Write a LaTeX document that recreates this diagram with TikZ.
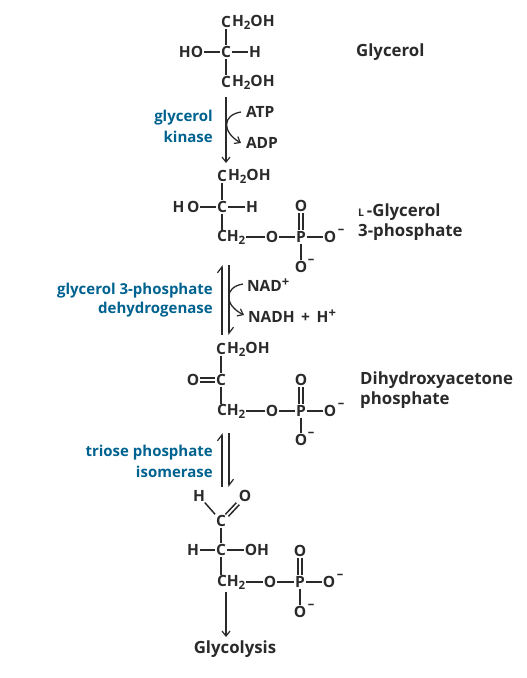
\documentclass[tikz,border=0pt]{standalone}
\usepackage{fontspec}
\setmainfont{Open Sans}[BoldFont={Open Sans Bold}]
\usetikzlibrary{arrows.meta,calc}
\definecolor{ink}{HTML}{2B2A2B}
\definecolor{enzblue}{HTML}{00628F}
\tikzset{
 atom/.style={font=\fontsize{15.5}{16}\selectfont\bfseries,text=ink,inner sep=1pt,outer sep=0pt},
 molname/.style={font=\fontsize{16.8}{17}\selectfont\bfseries,text=ink,inner sep=0pt,anchor=west},
 enzyme/.style={font=\fontsize{15}{16}\selectfont\bfseries,text=enzblue,inner sep=0pt,anchor=east},
 chg/.style={font=\fontsize{13}{13}\selectfont\bfseries,text=ink,inner sep=0pt},
 bond/.style={draw=ink,line width=1.5pt},
 rxn/.style={draw=ink,line width=1.3pt,-{Straight Barb[length=5pt,width=8pt,line width=1.2pt]}},
 upharp/.style={draw=ink,line width=1.3pt,-{Straight Barb[left,length=6pt,width=9pt,line width=1.2pt]}},
 downharp/.style={draw=ink,line width=1.3pt,-{Straight Barb[left,length=6pt,width=9pt,line width=1.2pt]}},
}
\newcommand{\subtwo}{\raisebox{-2.5pt}{\fontsize{11.5}{11}\selectfont 2}}
\newcommand{\supplus}{\raisebox{5pt}{\fontsize{13}{12}\selectfont +}}
\begin{document}
\begin{tikzpicture}[x=1pt,y=-1pt]
\useasboundingbox (0,0) rectangle (527,678);
% Glycerol
\node[atom] (a1) at (226,22) {C};
\node[atom,anchor=west] (a1r) at (231,22.5) {H\subtwo OH};
\node[atom] (a2) at (226,52) {C};
\node[atom] (a2l) at (191,52) {HO};
\node[atom] (a2r) at (255,52) {H};
\node[atom] (a3) at (226,82) {C};
\node[atom,anchor=west] (a3r) at (231,82.5) {H\subtwo OH};
\draw[bond] (a1) -- (a2);
\draw[bond] (a2) -- (a3);
\draw[bond] (a2l) -- (a2);
\draw[bond] (a2) -- (a2r);
\node[molname] (n1) at (356,52) {Glycerol};
% Step 1
\node[enzyme] (e1a) at (213,118) {glycerol};
\node[enzyme] (e1b) at (213,137) {kinase};
\coordinate (s1t) at (226,97);
\coordinate (s1b) at (226,163);
\draw[rxn] (s1t) -- (s1b);
\node[atom,anchor=west] (atp) at (245,112) {ATP};
\node[atom,anchor=west] (adp) at (245,143) {ADP};
\coordinate (s1c) at (241,112);
\coordinate (s1d) at (241,143);
\draw[rxn] (s1c) .. controls (222,115) and (222,132) .. (s1d);
% Glycerol 3-phosphate
\node[atom] (b1) at (222,176) {C};
\node[atom,anchor=west] (b1r) at (227,176.5) {H\subtwo OH};
\node[atom] (b2) at (222,207) {C};
\node[atom] (b2l) at (186,207) {H\,O};
\node[atom] (b2r) at (252,207) {H};
\node[atom,anchor=west] (b3) at (216,237.5) {CH\subtwo};
\node[atom] (b4) at (272,237) {O};
\node[atom] (b5) at (301,237) {P};
\node[atom] (b6) at (330,237) {O};
\node[chg] (b6c) at (341,231) {–};
\node[atom] (b7) at (301,206) {O};
\node[atom] (b8) at (301,267) {O};
\node[chg] (b8c) at (311,261) {–};
\draw[bond] (b1) -- (b2);
\draw[bond] (b2) -- (b2 |- b3.north);
\draw[bond] (b2l) -- (b2);
\draw[bond] (b2) -- (b2r);
\draw[bond] (b3.east |- b4) -- (b4);
\draw[bond] (b4) -- (b5);
\draw[bond] (b5) -- (b6);
\draw[bond] (b5) -- (b8);
\draw[bond] ([xshift=-2pt]b5.north) -- ([xshift=-2pt]b7.south);
\draw[bond] ([xshift=2pt]b5.north) -- ([xshift=2pt]b7.south);
\node[molname] (n2) at (358,212) {{\fontsize{10.5}{11}\selectfont L}\,-Glycerol};
\node[molname] (n2b) at (358,232) {3-phosphate};
% Step 2
\node[enzyme] (e2a) at (213,291) {glycerol 3-phosphate};
\node[enzyme] (e2b) at (213,310) {dehydrogenase};
\coordinate (s2lb) at (222,335); \coordinate (s2lt) at (222,265);
\coordinate (s2rt) at (229,265); \coordinate (s2rb) at (229,335);
\draw[upharp] (s2lb) -- (s2lt);
\draw[downharp] (s2rt) -- (s2rb);
\node[atom,anchor=west] (nad) at (246,285) {NAD\supplus};
\node[atom,anchor=west] (nadh) at (247,316) {NADH\, +\, H\supplus};
\coordinate (s2c) at (243,284);
\coordinate (s2d) at (244,315);
\draw[rxn] (s2c) .. controls (224,287) and (224,305) .. (s2d);
% DHAP
\node[atom] (c1) at (221,349) {C};
\node[atom,anchor=west] (c1r) at (226,349.5) {H\subtwo OH};
\node[atom] (c2) at (221,380) {C};
\node[atom] (c2l) at (193,380) {O};
\node[atom,anchor=west] (c3) at (216,411.5) {CH\subtwo};
\node[atom] (c4) at (272,411) {O};
\node[atom] (c5) at (301,411) {P};
\node[atom] (c6) at (330,411) {O};
\node[chg] (c6c) at (341,405) {–};
\node[atom] (c7) at (301,380) {O};
\node[atom] (c8) at (301,440) {O};
\node[chg] (c8c) at (311,434) {–};
\draw[bond] (c1) -- (c2);
\draw[bond] (c2) -- (c2 |- c3.north);
\draw[bond] ([yshift=-2pt]c2l.east) -- ([yshift=-2pt]c2.west);
\draw[bond] ([yshift=2pt]c2l.east) -- ([yshift=2pt]c2.west);
\draw[bond] (c3.east |- c4) -- (c4);
\draw[bond] (c4) -- (c5);
\draw[bond] (c5) -- (c6);
\draw[bond] (c5) -- (c8);
\draw[bond] ([xshift=-2pt]c5.north) -- ([xshift=-2pt]c7.south);
\draw[bond] ([xshift=2pt]c5.north) -- ([xshift=2pt]c7.south);
\node[molname] (n3a) at (360,380) {Dihydroxyacetone};
\node[molname] (n3b) at (360,400) {phosphate};
% Step 3
\node[enzyme] (e3a) at (213,453) {triose phosphate};
\node[enzyme] (e3b) at (213,472) {isomerase};
\coordinate (s3lb) at (222,487); \coordinate (s3lt) at (222,433);
\coordinate (s3rt) at (229,433); \coordinate (s3rb) at (229,487);
\draw[upharp] (s3lb) -- (s3lt);
\draw[downharp] (s3rt) -- (s3rb);
% GAP
\node[atom] (d1) at (199,496) {H};
\node[atom] (d2) at (245,496) {O};
\node[atom] (d3) at (221,521) {C};
\node[atom] (d4) at (221,550) {C};
\node[atom] (d4l) at (193,550) {H};
\node[atom] (d4r) at (257,550) {OH};
\node[atom,anchor=west] (d5) at (216,582.5) {CH\subtwo};
\node[atom] (d6) at (270,582) {O};
\node[atom] (d7) at (300,582) {P};
\node[atom] (d8) at (329,582) {O};
\node[chg] (d8c) at (340,576) {–};
\node[atom] (d9) at (300,551) {O};
\node[atom] (d10) at (300,612) {O};
\node[chg] (d10c) at (311,606) {–};
\draw[bond] (d1) -- (d3);
\draw[bond] ($(d3.north east)+(-1.5,0)$) -- ($(d2.south west)+(-1.5,0)$);
\draw[bond] ($(d3.north east)+(1.5,2)$) -- ($(d2.south west)+(1.5,2)$);
\draw[bond] (d3) -- (d4);
\draw[bond] (d4l) -- (d4);
\draw[bond] (d4) -- (d4r);
\draw[bond] (d4) -- (d4 |- d5.north);
\draw[bond] (d5.east |- d6) -- (d6);
\draw[bond] (d6) -- (d7);
\draw[bond] (d7) -- (d8);
\draw[bond] (d7) -- (d10);
\draw[bond] ([xshift=-2pt]d7.north) -- ([xshift=-2pt]d9.south);
\draw[bond] ([xshift=2pt]d7.north) -- ([xshift=2pt]d9.south);
\coordinate (s4t) at (226,592);
\node[molname,anchor=center] (g) at (235,649) {Glycolysis};
\coordinate (s4b) at (226,637);
\draw[rxn] (s4t) -- (s4b);
\end{tikzpicture}
\end{document}
